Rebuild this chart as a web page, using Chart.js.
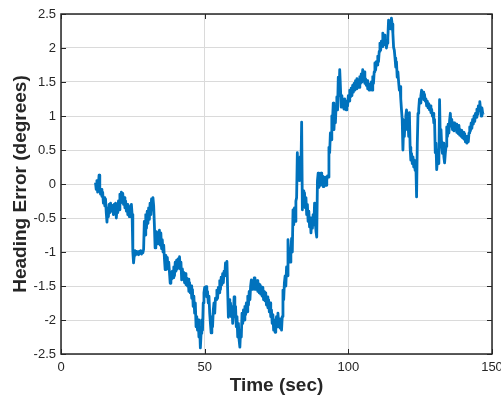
<!DOCTYPE html>
<html>
<head>
<meta charset="utf-8">
<script src="https://cdn.jsdelivr.net/npm/chart.js@4.4.1/dist/chart.umd.min.js"></script>
<style>
  html, body { margin: 0; padding: 0; background: #ffffff; }
  #wrap { width: 501px; height: 400px; }
</style>
</head>
<body>
<div id="wrap"><canvas id="chart" width="501" height="400"></canvas></div>
<script>
// Sample times (s), four samples per second
const timeSec = [
  12,12.25,12.5,12.75, 13,13.25,13.5,13.75, 14,14.25,14.5,14.75, 15,15.25,15.5,15.75,
  16,16.25,16.5,16.75, 17,17.25,17.5,17.75, 18,18.25,18.5,18.75, 19,19.25,19.5,19.75,
  20,20.25,20.5,20.75, 21,21.25,21.5,21.75, 22,22.25,22.5,22.75, 23,23.25,23.5,23.75,
  24,24.25,24.5,24.75, 25,25.25,25.5,25.75, 26,26.25,26.5,26.75, 27,27.25,27.5,27.75,
  28,28.25,28.5,28.75, 29,29.25,29.5,29.75, 30,30.25,30.5,30.75, 31,31.25,31.5,31.75,
  32,32.25,32.5,32.75, 33,33.25,33.5,33.75, 34,34.25,34.5,34.75, 35,35.25,35.5,35.75,
  36,36.25,36.5,36.75, 37,37.25,37.5,37.75, 38,38.25,38.5,38.75, 39,39.25,39.5,39.75,
  40,40.25,40.5,40.75, 41,41.25,41.5,41.75, 42,42.25,42.5,42.75, 43,43.25,43.5,43.75,
  44,44.25,44.5,44.75, 45,45.25,45.5,45.75, 46,46.25,46.5,46.75, 47,47.25,47.5,47.75,
  48,48.25,48.5,48.75, 49,49.25,49.5,49.75, 50,50.25,50.5,50.75, 51,51.25,51.5,51.75,
  52,52.25,52.5,52.75, 53,53.25,53.5,53.75, 54,54.25,54.5,54.75, 55,55.25,55.5,55.75,
  56,56.25,56.5,56.75, 57,57.25,57.5,57.75, 58,58.25,58.5,58.75, 59,59.25,59.5,59.75,
  60,60.25,60.5,60.75, 61,61.25,61.5,61.75, 62,62.25,62.5,62.75, 63,63.25,63.5,63.75,
  64,64.25,64.5,64.75, 65,65.25,65.5,65.75, 66,66.25,66.5,66.75, 67,67.25,67.5,67.75,
  68,68.25,68.5,68.75, 69,69.25,69.5,69.75, 70,70.25,70.5,70.75, 71,71.25,71.5,71.75,
  72,72.25,72.5,72.75, 73,73.25,73.5,73.75, 74,74.25,74.5,74.75, 75,75.25,75.5,75.75,
  76,76.25,76.5,76.75, 77,77.25,77.5,77.75, 78,78.25,78.5,78.75, 79,79.25,79.5,79.75,
  80,80.25,80.5,80.75, 81,81.25,81.5,81.75, 82,82.25,82.5,82.75, 83,83.25,83.5,83.75,
  84,84.25,84.5,84.75, 85,85.25,85.5,85.75, 86,86.25,86.5,86.75, 87,87.25,87.5,87.75,
  88,88.25,88.5,88.75, 89,89.25,89.5,89.75, 90,90.25,90.5,90.75, 91,91.25,91.5,91.75,
  92,92.25,92.5,92.75, 93,93.25,93.5,93.75, 94,94.25,94.5,94.75, 95,95.25,95.5,95.75,
  96,96.25,96.5,96.75, 97,97.25,97.5,97.75, 98,98.25,98.5,98.75, 99,99.25,99.5,99.75,
  100,100.25,100.5,100.75, 101,101.25,101.5,101.75, 102,102.25,102.5,102.75, 103,103.25,103.5,103.75,
  104,104.25,104.5,104.75, 105,105.25,105.5,105.75, 106,106.25,106.5,106.75, 107,107.25,107.5,107.75,
  108,108.25,108.5,108.75, 109,109.25,109.5,109.75, 110,110.25,110.5,110.75, 111,111.25,111.5,111.75,
  112,112.25,112.5,112.75, 113,113.25,113.5,113.75, 114,114.25,114.5,114.75, 115,115.25,115.5,115.75,
  116,116.25,116.5,116.75, 117,117.25,117.5,117.75, 118,118.25,118.5,118.75, 119,119.25,119.5,119.75,
  120,120.25,120.5,120.75, 121,121.25,121.5,121.75, 122,122.25,122.5,122.75, 123,123.25,123.5,123.75,
  124,124.25,124.5,124.75, 125,125.25,125.5,125.75, 126,126.25,126.5,126.75, 127,127.25,127.5,127.75,
  128,128.25,128.5,128.75, 129,129.25,129.5,129.75, 130,130.25,130.5,130.75, 131,131.25,131.5,131.75,
  132,132.25,132.5,132.75, 133,133.25,133.5,133.75, 134,134.25,134.5,134.75, 135,135.25,135.5,135.75,
  136,136.25,136.5,136.75, 137,137.25,137.5,137.75, 138,138.25,138.5,138.75, 139,139.25,139.5,139.75,
  140,140.25,140.5,140.75, 141,141.25,141.5,141.75, 142,142.25,142.5,142.75, 143,143.25,143.5,143.75,
  144,144.25,144.5,144.75, 145,145.25,145.5,145.75, 146,146.25,146.5,146.75, 147
];

// Heading error (degrees), one row per second
const headingDeg = [
  0.02,-0.08,0.05,-0.12,  -0.02,0.13,-0.05,-0.15,  -0.08,-0.18,-0.12,-0.28,  -0.20,-0.32,-0.22,-0.42,
  -0.56,-0.35,-0.48,-0.30,  -0.42,-0.28,-0.40,-0.32,  -0.35,-0.45,-0.30,-0.40,  -0.28,-0.50,-0.35,-0.42,
  -0.25,-0.38,-0.15,-0.28,  -0.12,-0.24,-0.14,-0.30,  -0.20,-0.35,-0.25,-0.40,  -0.30,-0.45,-0.32,-0.48,
  -0.35,-0.48,-0.30,-0.45,  -1.00,-1.16,-1.05,-0.98,  -1.04,-0.99,-1.03,-1.00,  -1.04,-0.99,-1.02,-0.98,
  -1.03,-0.99,-1.01,-0.96,  -0.55,-0.75,-0.45,-0.65,  -0.40,-0.58,-0.35,-0.52,  -0.28,-0.45,-0.22,-0.38,
  -0.20,-0.32,-0.60,-0.94,  -0.80,-0.70,-0.88,-0.75,  -0.85,-0.68,-0.90,-0.72,  -0.95,-0.82,-1.00,-0.90,
  -1.10,-1.26,-1.05,-1.20,  -1.08,-1.25,-1.15,-1.30,  -1.46,-1.30,-1.40,-1.28,  -1.38,-1.22,-1.35,-1.15,
  -1.28,-1.12,-1.25,-1.10,  -1.20,-1.07,-1.25,-1.15,  -1.41,-1.25,-1.38,-1.30,  -1.45,-1.32,-1.48,-1.38,
  -1.50,-1.40,-1.58,-1.45,  -1.60,-1.50,-1.68,-1.55,  -1.80,-1.65,-1.90,-1.75,  -2.10,-1.95,-2.15,-2.00,
  -2.25,-2.10,-2.41,-2.20,  -2.00,-2.15,-1.75,-1.60,  -1.52,-1.62,-1.51,-1.66,  -1.58,-1.75,-1.65,-1.90,
  -2.05,-2.19,-1.95,-2.10,  -1.85,-1.75,-1.90,-1.68,  -1.70,-1.56,-1.68,-1.52,  -1.60,-1.42,-1.55,-1.37,
  -1.48,-1.32,-1.45,-1.28,  -1.35,-1.16,-1.25,-1.14,  -1.56,-1.96,-1.70,-1.85,  -1.75,-1.95,-1.80,-2.05,
  -1.90,-1.66,-1.95,-1.80,  -2.10,-1.95,-2.25,-2.05,  -2.30,-2.40,-2.15,-2.25,  -1.90,-2.05,-1.85,-2.00,
  -1.80,-1.92,-1.75,-1.88,  -1.65,-1.78,-1.58,-1.70,  -1.50,-1.41,-1.55,-1.42,  -1.50,-1.38,-1.55,-1.45,
  -1.55,-1.42,-1.58,-1.46,  -1.60,-1.48,-1.62,-1.51,  -1.65,-1.52,-1.70,-1.58,  -1.72,-1.60,-1.78,-1.66,
  -1.82,-1.70,-1.88,-1.75,  -1.95,-1.85,-2.05,-1.92,  -2.15,-2.00,-2.18,-2.05,  -1.95,-2.10,-1.90,-2.05,
  -2.00,-2.12,-1.98,-2.15,  -1.95,-1.56,-1.70,-1.45,  -1.35,-1.50,-1.22,-1.35,  -0.82,-1.10,-0.95,-1.15,
  -1.02,-0.80,-1.00,-0.38,  -0.60,-0.35,-0.55,-0.25,  -0.20,0.46,0.10,0.30,  0.05,0.40,0.20,0.91,
  -0.38,-0.10,-0.30,-0.13,  -0.35,-0.20,-0.45,-0.30,  -0.55,-0.40,-0.63,-0.50,  -0.72,-0.55,-0.65,-0.45,
  -0.60,-0.28,-0.55,-0.70,  -0.78,0.05,0.16,-0.05,  0.10,-0.02,0.16,0.00,  0.12,-0.04,0.10,0.02,
  0.10,-0.02,0.06,0.12,  0.10,0.54,0.46,0.75,  0.65,1.00,0.94,1.19,  0.80,1.05,0.90,1.15,
  1.28,1.09,1.57,1.30,  1.68,1.43,1.13,1.30,  1.15,1.24,1.10,1.25,  1.19,1.09,1.22,1.15,
  1.30,1.22,1.38,1.28,  1.41,1.30,1.45,1.35,  1.48,1.38,1.52,1.40,  1.55,1.45,1.53,1.42,
  1.58,1.48,1.62,1.50,  1.68,1.55,1.65,1.48,  1.55,1.45,1.52,1.40,  1.48,1.38,1.45,1.40,
  1.50,1.38,1.58,1.48,  1.65,1.78,1.68,1.80,  1.75,1.88,1.80,1.95,  2.07,1.97,2.10,2.02,
  2.22,2.12,2.19,2.05,  2.12,2.00,2.07,2.15,  2.41,2.30,2.38,2.28,  2.44,2.35,2.22,2.01,
  1.97,1.85,1.72,1.80,  1.57,1.65,1.50,1.38,  1.43,1.25,1.09,0.95,  0.50,0.85,0.70,0.94,
  1.00,1.09,0.80,0.95,  0.70,1.05,0.54,0.35,  0.45,0.30,0.40,0.25,  0.35,0.20,0.30,-0.19,
  0.60,1.04,1.10,1.25,  1.19,1.30,1.38,1.28,  1.35,1.24,1.32,1.22,  1.25,1.15,1.22,1.12,
  1.18,1.09,1.15,1.05,  1.10,1.00,1.04,0.90,  0.95,0.46,0.60,0.21,  0.35,0.50,0.30,1.24,
  0.65,0.80,0.55,0.45,  0.60,0.40,0.31,0.45,  0.55,0.84,0.70,0.88,  0.75,0.94,1.04,0.85,
  0.95,0.80,0.90,0.78,  0.90,0.80,0.88,0.76,  0.84,0.74,0.86,0.72,  0.80,0.70,0.79,0.68,
  0.76,0.66,0.74,0.62,  0.70,0.60,0.68,0.62,  0.75,0.84,0.78,0.90,  0.82,0.95,0.88,1.00,
  0.92,1.04,0.98,1.10,  1.02,1.15,1.08,1.21,  1.10,1.00,1.12,1.04,  1.02
];

const xTicks = [0, 50, 100, 150];
const yTicks = [-2.5, -2, -1.5, -1, -0.5, 0, 0.5, 1, 1.5, 2, 2.5];

const AXIS_COLOR = '#262626';
const GRID_COLOR = '#dadada';
const LINE_COLOR = '#0072BD';
const FONT_FAMILY = 'Liberation Sans, Arial, sans-serif';

// Axes box with inward tick marks on all four sides
const boxPlugin = {
  id: 'boxPlugin',
  afterDatasetsDraw(chart) {
    const { ctx, chartArea: a, scales } = chart;
    const len = 5;
    ctx.save();
    ctx.strokeStyle = AXIS_COLOR;
    ctx.lineWidth = 1;
    ctx.beginPath();
    xTicks.forEach(v => {
      const x = Math.round(scales.x.getPixelForValue(v)) + 0.5;
      ctx.moveTo(x, a.bottom); ctx.lineTo(x, a.bottom - len);
      ctx.moveTo(x, a.top); ctx.lineTo(x, a.top + len);
    });
    yTicks.forEach(v => {
      const y = Math.round(scales.y.getPixelForValue(v)) + 0.5;
      ctx.moveTo(a.left, y); ctx.lineTo(a.left + len, y);
      ctx.moveTo(a.right, y); ctx.lineTo(a.right - len, y);
    });
    ctx.stroke();
    ctx.lineWidth = 1.5;
    ctx.strokeRect(a.left, a.top, a.right - a.left, a.bottom - a.top);
    ctx.restore();
  }
};

const points = timeSec.map((t, i) => ({ x: t, y: headingDeg[i] }));

new Chart(document.getElementById('chart'), {
  type: 'line',
  data: {
    datasets: [{
      data: points,
      borderColor: LINE_COLOR,
      borderWidth: 2.8,
      borderJoinStyle: 'round',
      pointRadius: 0,
      tension: 0,
      fill: false
    }]
  },
  options: {
    responsive: false,
    animation: false,
    layout: { padding: { top: 14, right: 9, left: 0, bottom: 0 } },
    plugins: { legend: { display: false }, tooltip: { enabled: false } },
    scales: {
      x: {
        type: 'linear',
        min: 0, max: 150,
        afterBuildTicks(s) { s.ticks = xTicks.map(v => ({ value: v })); },
        afterFit(s) { s.height = 46; s.paddingLeft = 0; s.paddingRight = 0; },
        grid: { color: GRID_COLOR, drawTicks: false, lineWidth: 1 },
        border: { display: false },
        ticks: {
          padding: 6,
          color: AXIS_COLOR,
          font: { family: FONT_FAMILY, size: 13 },
          maxRotation: 0
        },
        title: {
          display: true,
          text: 'Time (sec)',
          color: AXIS_COLOR,
          font: { family: FONT_FAMILY, size: 19, weight: 'bold' },
          padding: { top: 0, bottom: 3 }
        }
      },
      y: {
        type: 'linear',
        min: -2.5, max: 2.5,
        afterBuildTicks(s) { s.ticks = yTicks.map(v => ({ value: v })); },
        afterFit(s) { s.width = 61; s.paddingTop = 0; s.paddingBottom = 0; },
        grid: { color: GRID_COLOR, drawTicks: false, lineWidth: 1 },
        border: { display: false },
        ticks: {
          padding: 5,
          color: AXIS_COLOR,
          font: { family: FONT_FAMILY, size: 13 },
          callback: v => String(v)
        },
        title: {
          display: true,
          text: 'Heading Error (degrees)',
          color: AXIS_COLOR,
          font: { family: FONT_FAMILY, size: 19, weight: 'bold' },
          padding: { top: 9, bottom: 0 }
        }
      }
    }
  },
  plugins: [boxPlugin]
});
</script>
</body>
</html>
